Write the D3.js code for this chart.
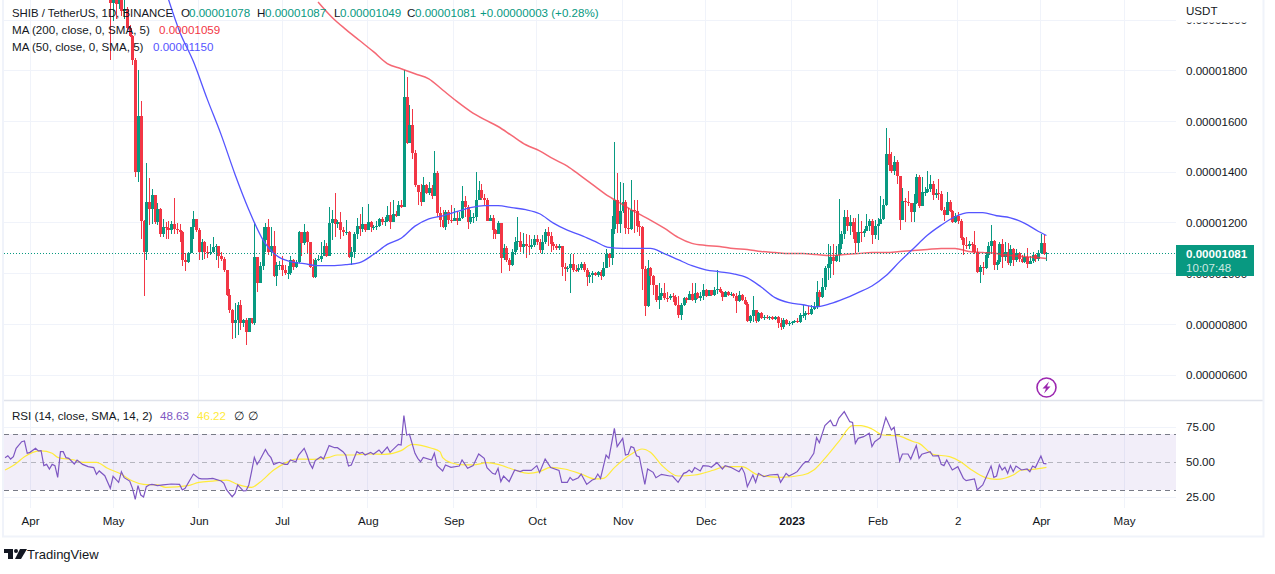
<!DOCTYPE html>
<html>
<head>
<meta charset="utf-8">
<title>SHIB / TetherUS</title>
<script src="https://cdn.jsdelivr.net/npm/d3@7"></script>
<style>
	html, body { margin: 0; padding: 0; background: #fff; }
	svg { display: block; }
	text { font-family: "Liberation Sans", Arial, sans-serif; font-size: 11.6px; fill: #131722; }
	.axis text { font-size: 11.6px; font-family: "Liberation Sans", Arial, sans-serif; }
	.axis .domain, .axis line { display: none; }
	.grid { stroke: #f0f3fa; stroke-width: 1; shape-rendering: crispEdges; }
</style>
</head>
<body>
<div id="chart"></div>
<script>
// prices are in units of 0.00000001 USDT, one value a day from 2022-04-30
var firstDay = "2022-04-30";
var firstOpen = 2130;
var closes = [
	2067,2099,2063,2091,2035,2043,1967,1935,1843,1400,
	1620,1207,1087,1284,1256,1308,1203,1256,1155,1183,
	1179,1171,1195,1175,1171,1163,1055,1047,1083,1183,
	1216,1171,1087,1123,1087,1083,1087,1103,1107,1071,
	1059,1015,917,857,805,817,877,805,817,769,
	825,805,1067,963,1031,1131,1183,1087,1107,991,
	1035,1035,1015,1003,1003,1055,1027,1047,1163,1119,
	1163,1123,1027,987,1055,1059,1071,1107,1071,1199,
	1216,1195,1203,1171,1163,1163,1067,1087,1155,1187,
	1175,1195,1171,1203,1183,1183,1187,1215,1203,1207,
	1232,1203,1236,1228,1272,1264,1696,1516,1584,1476,
	1348,1320,1284,1348,1316,1336,1304,1396,1240,1212,
	1183,1244,1212,1208,1220,1208,1220,1288,1264,1203,
	1224,1224,1292,1328,1300,1292,1208,1220,1171,1155,
	1199,1063,1099,1055,1035,1087,1123,1127,1103,1115,
	1107,1105,1111,1135,1123,1091,1123,1163,1147,1115,
	1107,1099,1107,1027,1019,1023,1039,1015,1014,1023,
	1039,1015,987,995,1003,995,1007,991,1023,1079,
	1063,1175,1292,1195,1248,1284,1179,1177,1252,1248,
	1187,1183,1019,873,1023,991,955,897,911,923,
	905,903,911,907,877,837,877,905,897,921,
	897,925,905,913,937,913,937,917,937,941,
	929,909,929,917,918,913,893,917,897,881,
	813,833,857,813,845,825,829,825,829,821,
	829,805,789,817,801,805,809,813,809,837,
	837,845,841,861,869,929,909,947,1023,1039,
	1067,1051,1075,1115,1155,1224,1187,1203,1163,1119,
	1163,1159,1167,1187,1207,1151,1187,1195,1216,1272,
	1472,1428,1404,1440,1384,1212,1288,1284,1280,1244,
	1280,1380,1268,1320,1322,1332,1352,1308,1316,1314,
	1252,1232,1284,1248,1203,1228,1207,1139,1111,1107,
	1115,1113,1087,1007,1027,1023,1075,1107,1127,1035,
	1047,1115,1067,1087,1043,1095,1055,1083,1059,1047,
	1067,1039,1051,1075,1059,1083,1119,1078,1081
];
var highs = [
	2123,2115,2103,2107,2095,2083,2051,1979,1939,1851,
	1804,1680,1211,1436,1376,1332,1308,1280,1260,1216,
	1204,1208,1208,1300,1199,1195,1167,1083,1087,1183,
	1248,1216,1179,1135,1127,1107,1115,1143,1115,1107,
	1087,1067,1015,941,861,885,889,897,821,825,
	825,825,1199,1067,1047,1183,1199,1216,1183,1167,
	1047,1051,1071,1035,1031,1071,1059,1055,1167,1163,
	1195,1167,1123,1059,1063,1075,1123,1131,1119,1264,
	1252,1316,1212,1244,1183,1212,1167,1103,1163,1220,
	1236,1264,1195,1276,1207,1191,1207,1220,1224,1224,
	1268,1284,1292,1248,1288,1292,1804,1776,1664,1648,
	1488,1348,1352,1380,1352,1360,1348,1484,1404,1264,
	1252,1252,1252,1272,1260,1244,1244,1344,1304,1272,
	1252,1240,1400,1364,1352,1312,1300,1232,1232,1175,
	1207,1199,1115,1107,1063,1095,1143,1223,1163,1159,
	1155,1151,1135,1151,1151,1135,1151,1175,1183,1163,
	1123,1115,1115,1107,1043,1031,1079,1079,1035,1039,
	1047,1047,1023,1007,1011,1007,1011,1015,1047,1095,
	1083,1227,1520,1396,1360,1356,1292,1260,1368,1292,
	1292,1207,1187,1031,1055,1027,995,955,963,943,
	963,927,919,923,917,913,885,909,909,933,
	963,963,929,929,957,941,937,937,949,1015,
	949,933,933,933,929,925,925,933,921,909,
	889,837,913,857,849,849,837,837,833,833,
	833,833,825,825,821,813,813,817,825,845,
	877,853,873,877,889,969,937,983,1031,1115,
	1107,1115,1107,1296,1167,1252,1252,1232,1220,1220,
	1236,1207,1175,1236,1216,1216,1212,1220,1304,1296,
	1576,1536,1480,1464,1448,1384,1336,1300,1324,1280,
	1312,1392,1388,1380,1340,1404,1388,1364,1332,1372,
	1324,1264,1320,1292,1252,1240,1244,1215,1143,1143,
	1127,1123,1167,1099,1035,1047,1087,1123,1191,1131,
	1055,1123,1135,1123,1119,1111,1099,1095,1087,1075,
	1083,1099,1071,1087,1079,1091,1155,1151,1087
];
var lows = [
	1841,1995,2003,2043,2015,2003,1959,1933,1822,1380,
	1360,1135,913,1055,1191,1195,1195,1191,1143,1143,
	1135,1135,1155,1155,1155,1123,1031,1011,1043,1083,
	1135,1163,1055,1055,1059,1063,1075,1083,1055,1023,
	1051,1007,913,845,741,745,757,777,789,717,
	769,801,797,929,963,1015,1087,1075,1071,987,
	951,1015,991,995,979,995,1015,1023,1043,1071,
	1111,1083,1023,983,983,1051,1047,1071,1067,1071,
	1131,1143,1179,1135,1147,1151,1063,1035,1063,1135,
	1147,1163,1163,1171,1163,1171,1171,1183,1191,1187,
	1203,1175,1203,1224,1228,1260,1264,1512,1520,1452,
	1340,1272,1268,1284,1312,1308,1296,1304,1224,1183,
	1179,1171,1195,1199,1207,1191,1207,1215,1224,1175,
	1195,1199,1207,1292,1292,1272,1207,1207,1135,1135,
	1155,1003,1055,1047,1011,1031,1075,1091,1087,1083,
	1063,1075,1095,1103,1111,1083,1079,1115,1107,1087,
	1091,1091,1091,991,971,1007,923,1007,1007,1007,
	1015,1007,951,963,963,991,987,975,987,1023,
	1027,1035,1155,1159,1159,1240,1155,1155,1171,1159,
	1163,1147,935,833,869,955,917,889,861,897,
	897,889,897,889,873,825,817,873,885,897,
	893,885,901,893,897,909,913,913,913,921,
	925,893,909,913,913,905,845,889,893,877,
	809,805,809,805,809,821,817,821,817,817,
	817,785,777,781,797,793,797,805,805,805,
	825,817,837,837,857,861,869,905,935,975,
	983,995,1047,1047,1095,1135,1167,1151,1135,1083,
	1087,1123,1143,1167,1167,1115,1135,1131,1195,1212,
	1268,1404,1396,1388,1352,1173,1212,1204,1268,1204,
	1204,1276,1260,1268,1304,1316,1320,1292,1300,1292,
	1248,1207,1232,1244,1199,1199,1195,1131,1075,1095,
	1095,1087,1079,1003,963,995,1019,1063,1083,1015,
	1015,1039,1023,1051,1035,1031,1031,1047,1047,1043,
	1043,1023,1039,1043,1047,1051,1079,1075,1049
];

// moving averages, read every 5 days counted from firstDay, then the last day
var maStep = 5;
var ma50First = 20;
var ma50 = [
	2115,1955,1836,1688,1548,1392,1252,1135,1071,1047,
	1039,1031,1031,1035,1043,1075,1115,1139,1187,1216,
	1228,1244,1260,1268,1268,1260,1252,1236,1199,1171,
	1151,1127,1103,1099,1099,1099,1079,1055,1031,1015,
	1007,999,983,947,905,885,877,869,881,901,
	925,951,991,1047,1099,1151,1191,1224,1240,1240,
	1228,1220,1199,1167
];
var ma200First = 75;
var ma200 = [
	2071,2011,1963,1919,1875,1828,1808,1788,1768,1724,
	1680,1640,1608,1580,1544,1508,1484,1452,1424,1384,
	1344,1304,1272,1240,1211,1179,1143,1119,1111,1107,
	1099,1095,1087,1083,1079,1079,1075,1071,1075,1079,
	1083,1083,1087,1091,1095,1099,1099,1087,1083,1079,
	1071,1067,1063
];
var maLastDay = 338;
var ma50Last = 1150;
var ma200Last = 1059;

// RSI and its average as [days from 2022-04-01, value]
var rsiStart = "2022-04-01";
var rsiPoints = [
	[-9,53.1],[-8,54.5],[-7,52.1],[-6,53.8],[-5,59.8],[-3,64.5],[-2,65],[-1,56.2],[0,56.9],[2,59.8],
	[3,57.9],[4,58.1],[5,47.4],[6,48.3],[7,45],[8,48.3],[9,47.4],[10,39],[11,57.4],[12,57.4],
	[13,53.1],[14,52.6],[16,48.6],[17,51.4],[19,48.3],[21,46.7],[23,46],[24,41.2],[25,43.6],[27,40.2],
	[29,31.2],[30,39.8],[32,35.5],[33,43.1],[34,38.8],[36,36.4],[37,31.2],[38,23.3],[39,33.1],[40,26.4],
	[41,25],[42,32.4],[43,33.6],[44,34],[45,33.6],[46,33.1],[48,33.6],[51,34.3],[54,34],[55,30],
	[56,31.2],[59,41.4],[61,38.3],[62,37.9],[64,37.9],[66,38.3],[69,36.4],[70,34.8],[71,30],[73,25.2],
	[74,27.6],[75,33.6],[77,29.3],[78,29.5],[79,33.6],[80,43.1],[81,53.3],[82,48.3],[83,51.4],[85,59],
	[86,55.5],[87,53.1],[88,48.3],[90,49.8],[92,48.3],[93,48.3],[94,51.4],[96,50.2],[97,55],[99,59.8],
	[100,55],[101,49],[102,45.5],[103,51],[105,53.8],[106,52.1],[108,61.7],[110,60.2],[111,60.2],[113,57.4],
	[114,55],[115,47.1],[116,47.9],[118,57.4],[119,56.2],[120,56.9],[121,55],[123,56.9],[124,55.5],[126,58.6],
	[127,56.2],[129,60.7],[130,56.9],[133,62.6],[134,62.1],[135,83.1],[136,69.3],[137,69.8],[139,56.2],[140,52.6],
	[141,50.2],[142,53.3],[145,51.4],[146,56.2],[147,47.4],[149,43.6],[150,47.9],[152,46.2],[155,47.1],[156,51.4],
	[158,45.5],[160,47.4],[162,55.7],[164,52.6],[165,46],[167,41.9],[168,41.2],[169,45.5],[170,36],[171,40],
	[173,36],[175,44.3],[177,43.1],[178,44],[181,44],[183,47.4],[184,42.6],[186,52.1],[188,46],[191,44],
	[192,35.5],[194,35.5],[195,39],[196,36.9],[198,38.8],[199,41.4],[201,34],[203,37.1],[204,37.9],[205,41.4],
	[206,38.3],[208,55],[209,52.6],[211,74],[212,61],[214,66.9],[215,55],[216,55.5],[217,61],[218,60.2],
	[219,54.5],[220,53.6],[222,34],[223,45],[225,42.6],[226,38.8],[228,41.2],[231,40],[232,40],[234,35.5],
	[236,41.9],[237,42.6],[238,44.3],[239,42.6],[240,46],[242,43.6],[243,47.4],[245,47.1],[246,46.2],[248,49.5],
	[250,45],[251,47.4],[253,46.2],[256,43.1],[257,46],[258,41.9],[259,32.4],[261,40.7],[262,35.5],[263,41.9],
	[265,39.5],[267,40.7],[270,41.2],[271,35.5],[273,41.9],[274,40],[276,41.9],[277,43.1],[279,48.3],[280,50.2],
	[281,50.2],[283,56.2],[284,67.4],[285,63.8],[287,76],[289,79.8],[290,76],[291,76],[292,81.2],[294,86],
	[296,78.8],[297,78.3],[298,63.3],[299,66.9],[301,68.1],[303,70.5],[304,61],[305,64.5],[307,67.4],[309,81.7],
	[311,72.9],[312,74.8],[314,50.7],[315,55.7],[317,55.7],[318,52.1],[320,61.7],[321,52.6],[322,55.5],[325,57.4],
	[326,54.3],[328,54.5],[329,48.3],[330,47.4],[331,51.4],[333,44.3],[335,46.7],[337,38.3],[338,36.7],[341,37.9],
	[342,30],[344,33.6],[347,47.1],[348,39],[349,40],[350,47.9],[351,44.3],[352,46.2],[353,41.9],[354,47.4],
	[355,43.1],[356,47.1],[358,44.3],[360,45],[361,43.1],[362,47.1],[363,46],[365,54.3],[366,49],[367,48.6]
];
var rsiMaPoints = [
	[-9,44.3],[-5,49],[-2,53.8],[1,56.9],[4,57.9],[8,56.2],[10,53.3],[16,51.4],[19,49.8],[24,49.8],
	[28,45.5],[33,41.2],[37,36.4],[41,34],[46,33.6],[49,31.9],[57,33.1],[61,35.5],[66,36.4],[71,37.1],
	[75,34],[80,31.9],[83,35.5],[88,44.3],[92,49],[96,52.1],[102,51.9],[108,53.3],[111,55],[117,55],
	[122,55.7],[128,55.5],[134,58.1],[138,62.6],[145,59.8],[148,57.4],[149,53.1],[152,49.5],[157,47.9],[160,47.9],
	[165,49.5],[169,48.3],[175,44.3],[180,41.9],[184,43.1],[188,46.2],[193,45],[199,41.4],[204,37.9],[207,38.3],
	[211,46],[217,55.5],[221,59.3],[224,56.9],[228,47.9],[234,40],[240,40.7],[247,44.3],[251,46.7],[257,46.7],
	[263,40.7],[271,39],[279,40.7],[283,44.3],[287,52.6],[292,64.5],[297,76],[300,76],[304,73.6],[308,69.3],
	[313,68.8],[319,64.5],[321,63.3],[326,55.5],[332,53.8],[336,50.2],[340,44.3],[345,38.8],[349,37.6],[355,40.7],
	[358,44.3],[362,44.8],[367,46.2]
];

// tick labels
var timeTicks = ["2022-04-01","2022-05-01","2022-06-01","2022-07-01","2022-08-01","2022-09-01","2022-10-01","2022-11-01","2022-12-01","2023-01-01","2023-02-01","2023-03-02","2023-04-01","2023-05-01"];
var timeLabels = ["Apr","May","Jun","Jul","Aug","Sep","Oct","Nov","Dec","2023","Feb","2","Apr","May"];
var priceTicks = [600,800,1000,1200,1400,1600,1800,2000];
var rsiTicks = [25,50,75];
var lastPrice = 1081;
var countdown = "10:07:48";

var green = "#089981", red = "#F23645", blue = "#5555ff", purple = "#7E57C2", yellow = "#FFEB3B";
var w = 1275, h = 574;
var plotLeft = 4, plotRight = 1176, axisX = 1186;
var paneBottom = 400, rsiTop = 401, rsiBottom = 508;

var parseDay = d3.utcParse("%Y-%m-%d");
var start = parseDay(firstDay);
var rsi0 = parseDay(rsiStart);

var x = d3.scaleUtc().domain([parseDay("2022-04-01"), parseDay("2023-05-01")]).range([30, 1124]);
var y = d3.scaleLinear().domain([600, 2000]).range([375, 20]);
var yRsi = d3.scaleLinear().domain([25, 75]).range([497, 427]);

function priceText(v) { return (v * 1e-8).toFixed(8); }
function dayX(i) { return x(d3.utcDay.offset(start, i)); }
function rsiX(d) { return x(d3.utcDay.offset(rsi0, d[0])); }

var candles = closes.map(function(c, i) {
	return {i: i, open: i == 0 ? firstOpen : closes[i - 1], close: c, high: highs[i], low: lows[i]};
});

var svg = d3.select("#chart").append("svg").attr("width", w).attr("height", h);

svg.append("clipPath").attr("id", "priceClip").append("rect")
	.attr("x", plotLeft).attr("y", 0).attr("width", plotRight - plotLeft).attr("height", paneBottom);
svg.append("clipPath").attr("id", "rsiClip").append("rect")
	.attr("x", plotLeft).attr("y", rsiTop).attr("width", plotRight - plotLeft).attr("height", rsiBottom - rsiTop);

// grid
svg.append("g").selectAll("line").data(timeTicks).enter().append("line")
	.attr("class", "grid")
	.attr("x1", function(d) { return x(parseDay(d)); })
	.attr("x2", function(d) { return x(parseDay(d)); })
	.attr("y1", 0).attr("y2", rsiBottom);
svg.append("g").selectAll("line").data(priceTicks).enter().append("line")
	.attr("class", "grid")
	.attr("x1", plotLeft).attr("x2", plotRight)
	.attr("y1", function(d) { return y(d); }).attr("y2", function(d) { return y(d); });
svg.append("g").selectAll("line").data([25, 75]).enter().append("line")
	.attr("class", "grid")
	.attr("x1", plotLeft).attr("x2", plotRight)
	.attr("y1", function(d) { return yRsi(d); }).attr("y2", function(d) { return yRsi(d); });

// candles
var price = svg.append("g").attr("clip-path", "url(#priceClip)");
price.append("g").selectAll("line").data(candles).enter().append("line")
	.attr("x1", function(d) { return Math.round(dayX(d.i)) + 0.5; })
	.attr("x2", function(d) { return Math.round(dayX(d.i)) + 0.5; })
	.attr("y1", function(d) { return y(d.high); })
	.attr("y2", function(d) { return y(d.low); })
	.attr("stroke", function(d) { return d.close >= d.open ? green : red; })
	.attr("stroke-width", 1)
	.attr("shape-rendering", "crispEdges");
price.append("g").selectAll("rect").data(candles).enter().append("rect")
	.attr("x", function(d) { return Math.round(dayX(d.i)) - 1; })
	.attr("width", 3)
	.attr("y", function(d) { return y(Math.max(d.open, d.close)); })
	.attr("height", function(d) { return Math.max(1, Math.abs(y(d.open) - y(d.close))); })
	.attr("fill", function(d) { return d.close >= d.open ? green : red; })
	.attr("shape-rendering", "crispEdges");

// last price line
svg.append("line")
	.attr("x1", plotLeft).attr("x2", plotRight)
	.attr("y1", Math.round(y(lastPrice)) + 0.5).attr("y2", Math.round(y(lastPrice)) + 0.5)
	.attr("stroke", green).attr("stroke-width", 1).attr("stroke-dasharray", "1 2")
	.attr("shape-rendering", "crispEdges");

// moving averages
function maSeries(first, values, last) {
	var pts = values.map(function(v, k) { return [first + k * maStep, v]; });
	pts.push([maLastDay, last]);
	return pts;
}
var maLine = d3.line()
	.x(function(d) { return dayX(d[0]); })
	.y(function(d) { return y(d[1]); })
	.curve(d3.curveMonotoneX);
price.append("path").datum(maSeries(ma200First, ma200, ma200Last))
	.attr("d", maLine).attr("fill", "none")
	.attr("stroke", red).attr("stroke-opacity", 0.75).attr("stroke-width", 1.5);
price.append("path").datum(maSeries(ma50First, ma50, ma50Last))
	.attr("d", maLine).attr("fill", "none")
	.attr("stroke", blue).attr("stroke-width", 1.3);

// rsi pane
var rsiG = svg.append("g");
rsiG.append("rect")
	.attr("x", plotLeft).attr("width", plotRight - plotLeft)
	.attr("y", yRsi(70)).attr("height", yRsi(30) - yRsi(70))
	.attr("fill", purple).attr("fill-opacity", 0.1);
rsiG.selectAll("line.band").data([70, 50, 30]).enter().append("line")
	.attr("class", "band")
	.attr("x1", plotLeft).attr("x2", plotRight)
	.attr("y1", function(d) { return yRsi(d); }).attr("y2", function(d) { return yRsi(d); })
	.attr("stroke", "#787B86")
	.attr("stroke-opacity", function(d) { return d == 50 ? 0.5 : 1; })
	.attr("stroke-dasharray", "5 4")
	.attr("shape-rendering", "crispEdges");
var rsiClip = rsiG.append("g").attr("clip-path", "url(#rsiClip)");
rsiClip.append("path").datum(rsiMaPoints)
	.attr("d", d3.line().x(rsiX).y(function(d) { return yRsi(d[1]); }).curve(d3.curveMonotoneX))
	.attr("fill", "none").attr("stroke", yellow).attr("stroke-width", 1.2);
rsiClip.append("path").datum(rsiPoints)
	.attr("d", d3.line().x(rsiX).y(function(d) { return yRsi(d[1]); }))
	.attr("fill", "none").attr("stroke", purple).attr("stroke-width", 1.2);

// frame
svg.append("line").attr("x1", plotLeft).attr("x2", 1263).attr("y1", 400.5).attr("y2", 400.5)
	.attr("stroke", "#e0e3eb").attr("stroke-width", 1.5);
svg.append("path").attr("d", "M3,0V536.5H1263.5V0").attr("fill", "none")
	.attr("stroke", "#f0f3fa").attr("stroke-width", 2);

// axes
svg.append("g").attr("class", "axis")
	.attr("transform", "translate(" + axisX + ",0)")
	.call(d3.axisRight(y).tickValues(priceTicks).tickSize(0).tickPadding(0).tickFormat(priceText));
svg.append("g").attr("class", "axis")
	.attr("transform", "translate(" + axisX + ",0)")
	.call(d3.axisRight(yRsi).tickValues(rsiTicks).tickSize(0).tickPadding(0).tickFormat(function(d) { return d.toFixed(2); }));
svg.append("g").attr("class", "axis")
	.attr("transform", "translate(0,517)")
	.call(d3.axisBottom(x).tickValues(timeTicks.map(parseDay)).tickSize(0).tickPadding(0)
		.tickFormat(function(d, i) { return timeLabels[i]; }))
	.selectAll("text")
	.style("font-weight", function(d, i) { return timeLabels[i] == "2023" ? "bold" : null; });

// usdt corner and last price tag
svg.append("rect").attr("x", plotRight).attr("y", 0).attr("width", 80).attr("height", 22.5).attr("fill", "#fff");
svg.append("text").attr("x", axisX).attr("y", 15).text("USDT");
svg.append("rect").attr("x", plotRight).attr("y", 245).attr("width", 78).attr("height", 31).attr("fill", green);
svg.append("text").attr("x", axisX).attr("y", 258).style("fill", "#fff").style("font-weight", "bold").text(priceText(lastPrice));
svg.append("text").attr("x", axisX).attr("y", 272).style("fill", "#fff").style("fill-opacity", 0.8).text(countdown);

// legend
function legendRow(yPos, parts) {
	parts.forEach(function(p) {
		var t = svg.append("text").attr("x", p[0]).attr("y", yPos).style("fill", p[2] || "#131722").text(p[1]);
		if (p[3]) t.attr("textLength", p[3]).attr("lengthAdjust", "spacingAndGlyphs");
	});
}
legendRow(17, [[12, "SHIB / TetherUS, 1D, BINANCE", null, 161], [181, "O"], [189, "0.00001078", green], [257, "H"], [265, "0.00001087", green],
	[334, "L"], [340, "0.00001049", green], [407, "C"], [415, "0.00001081", green], [480, "+0.00000003 (+0.28%)", green]]);
legendRow(34, [[12, "MA (200, close, 0, SMA, 5)"], [159, "0.00001059", red]]);
legendRow(51, [[12, "MA (50, close, 0, SMA, 5)"], [153, "0.00001150", blue]]);
legendRow(420, [[12, "RSI (14, close, SMA, 14, 2)"], [160, "48.63", purple], [197, "46.22", yellow], [234, "\u2205"], [248, "\u2205"]]);

// lightning badge
var badge = svg.append("g").attr("transform", "translate(1046.5,387.5)");
badge.append("circle").attr("r", 9.5).attr("fill", "#fff").attr("stroke", "#9c27b0").attr("stroke-width", 1.6);
badge.append("path").attr("d", "M2.5,-6 L-4,1 L-0.5,1 L-2.5,6 L4,-1 L0.5,-1 Z").attr("fill", "#9c27b0");

// tradingview mark
var logo = svg.append("g").attr("transform", "translate(4,549)").attr("fill", "#131722");
logo.append("path").attr("d", "M0,0H9V10H4V4H0Z");
logo.append("circle").attr("cx", 12).attr("cy", 2).attr("r", 2);
logo.append("path").attr("d", "M16,0H23L17,10H11Z");
svg.append("text").attr("x", 27).attr("y", 559).style("font-size", "13px").text("TradingView");
</script>
</body>
</html>
